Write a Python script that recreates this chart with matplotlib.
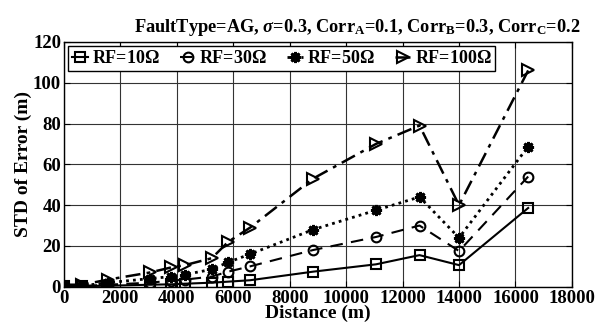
import numpy as np
import matplotlib
matplotlib.use('Agg')
import matplotlib.pyplot as plt

plt.rcParams['font.family'] = 'Liberation Serif'
plt.rcParams['font.weight'] = 'bold'
plt.rcParams['mathtext.fontset'] = 'custom'
plt.rcParams['mathtext.rm'] = 'Liberation Serif:bold'
plt.rcParams['mathtext.bf'] = 'Liberation Serif:bold'
plt.rcParams['mathtext.it'] = 'Liberation Serif:italic'

# Data
dist = np.array([0, 650, 1560, 3050, 3810, 4290, 5240, 5820, 6600, 8830, 11060, 12600, 14000, 16450])
rf10 = np.array([0.2, 0.3, 0.5, 1.0, 1.2, 1.5, 2.0, 2.5, 3.2, 7.4, 11.0, 15.5, 10.6, 38.6])
rf30 = np.array([0.3, 0.4, 1.0, 2.0, 3.0, 3.5, 5.0, 7.4, 10.0, 18.0, 24.4, 30.0, 17.5, 54.0])
rf50 = np.array([0.5, 0.5, 2.0, 4.0, 5.0, 6.0, 8.5, 12.0, 16.0, 28.0, 37.5, 44.0, 24.0, 68.7])
rf100 = np.array([1.0, 1.0, 3.5, 7.0, 9.5, 10.6, 14.0, 22.0, 29.0, 53.0, 70.0, 79.0, 40.0, 106.0])

fig = plt.figure(figsize=(5.97, 3.35), dpi=100)
ax = fig.add_axes([0.107, 0.144, 0.851, 0.731])

ax.plot(dist, rf10, '-k', marker='s', mfc='none', ms=7, mew=1.5, lw=1.5, label=r'RF=10$\Omega$')
ax.plot(dist, rf30, 'k', ls=(0, (6, 4)), marker='o', mfc='none', ms=7, mew=1.5, lw=1.5, label=r'RF=30$\Omega$')
ax.plot(dist, rf50, 'k', ls=(0, (1, 1.5)), marker=(8, 2, 0), ms=8, mew=2, lw=2, label=r'RF=50$\Omega$')
ax.plot(dist, rf100, 'k', ls=(0, (6, 2.5, 1.5, 2.5)), marker='>', mfc='none', ms=8, mew=1.5, lw=1.8, label=r'RF=100$\Omega$')

ax.set_xlim(0, 18000)
ax.set_ylim(0, 120)
ax.set_xticks(np.arange(0, 18001, 2000))
ax.set_yticks(np.arange(0, 121, 20))
ax.grid(True, color='0.2', lw=0.8)
ax.tick_params(labelsize=13.5, direction='in', length=4, top=True, right=True, pad=2)
for s in ax.spines.values():
    s.set_linewidth(1.0)

ax.set_xlabel('Distance (m)', fontsize=14, fontweight='bold', labelpad=-1)
ax.set_ylabel('STD of Error (m)', fontsize=14, fontweight='bold', labelpad=1)
ax.set_title(r'FaultType=AG, $\sigma$=0.3, Corr$_{\mathbf{A}}$=0.1, Corr$_{\mathbf{B}}$=0.3, Corr$_{\mathbf{C}}$=0.2',
             fontsize=13.2, fontweight='bold', pad=7, x=0.578)

leg = ax.legend(loc='upper left', ncol=4, fontsize=13, frameon=True, fancybox=False,
                edgecolor='k', framealpha=1, handlelength=0.9, handletextpad=0.2,
                columnspacing=1.1, borderaxespad=0.25, borderpad=0.2)
leg.get_frame().set_linewidth(1.0)

fig.savefig('out.png', dpi=100)
